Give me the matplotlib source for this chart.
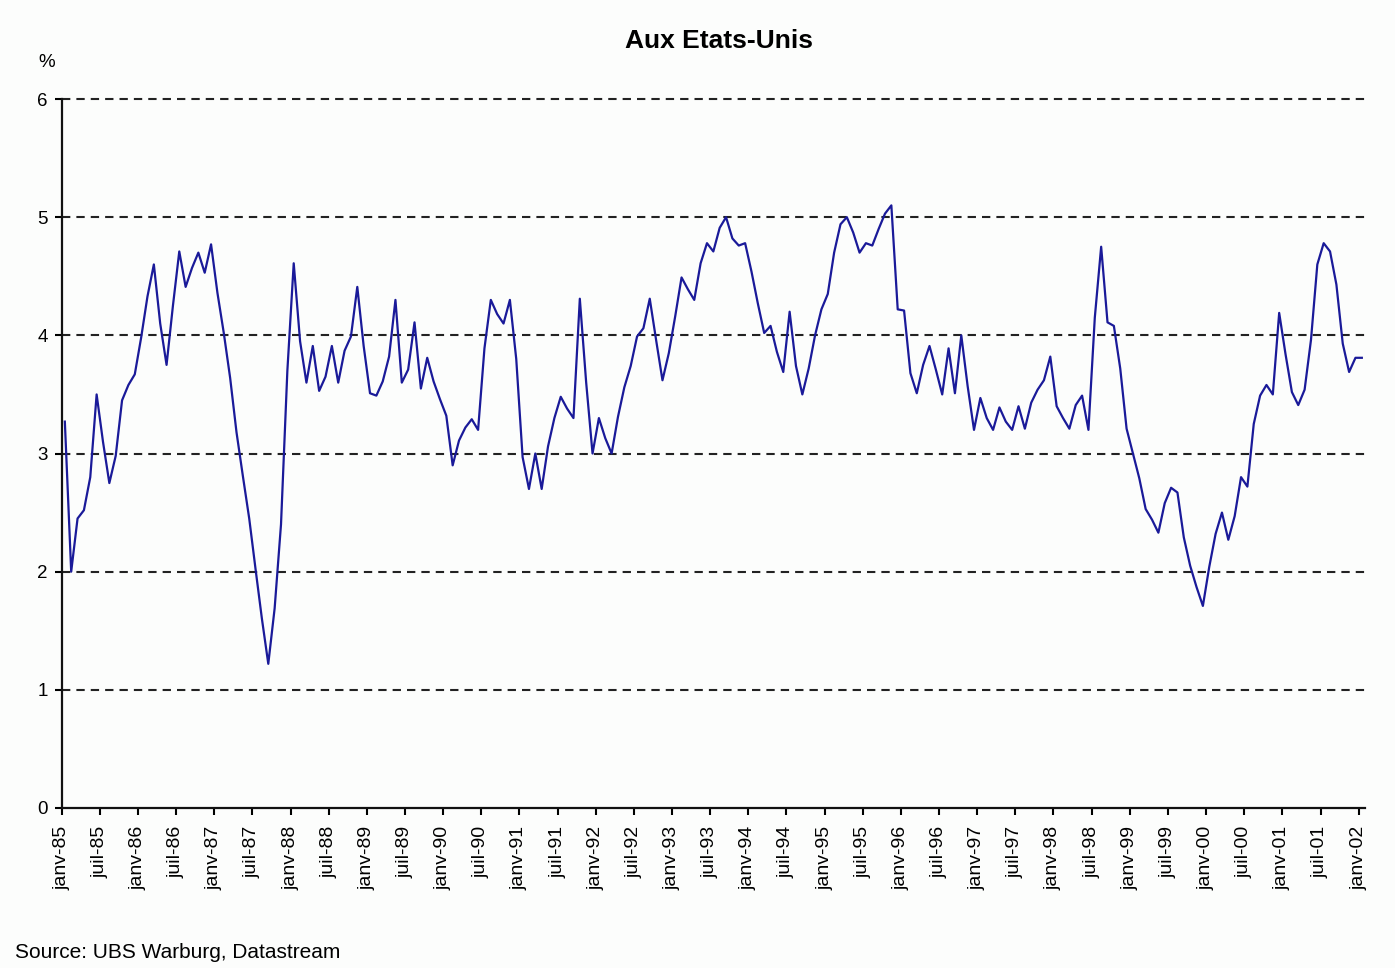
import numpy as np
import matplotlib
matplotlib.use("Agg")
import matplotlib.pyplot as plt

# monthly values, janv-85 .. janv-02, in %
rate = [
    3.27, 2.00, 2.45, 2.52, 2.80, 3.50, 3.10, 2.75, 2.98, 3.45, 3.58, 3.67,  # 1985
    3.98, 4.33, 4.60, 4.10, 3.75, 4.25, 4.71, 4.41, 4.57, 4.70, 4.53, 4.77,  # 1986
    4.36, 4.02, 3.64, 3.18, 2.81, 2.45, 2.02, 1.60, 1.22, 1.69, 2.40, 3.70,  # 1987
    4.61, 3.95, 3.60, 3.91, 3.53, 3.65, 3.91, 3.60, 3.87, 3.99, 4.41, 3.91,  # 1988
    3.51, 3.49, 3.61, 3.82, 4.30, 3.60, 3.71, 4.11, 3.55, 3.81, 3.61, 3.46,  # 1989
    3.32, 2.90, 3.11, 3.22, 3.29, 3.20, 3.89, 4.30, 4.18, 4.10, 4.30, 3.80,  # 1990
    2.97, 2.70, 3.00, 2.70, 3.06, 3.30, 3.48, 3.38, 3.30, 4.31, 3.60, 3.00,  # 1991
    3.30, 3.13, 3.00, 3.31, 3.56, 3.74, 3.99, 4.06, 4.31, 3.96, 3.62, 3.85,  # 1992
    4.16, 4.49, 4.39, 4.30, 4.61, 4.78, 4.71, 4.91, 5.00, 4.82, 4.76, 4.78,  # 1993
    4.54, 4.27, 4.02, 4.08, 3.86, 3.69, 4.20, 3.74, 3.50, 3.72, 4.00, 4.22,  # 1994
    4.35, 4.70, 4.94, 5.00, 4.87, 4.70, 4.78, 4.76, 4.90, 5.03, 5.10, 4.22,  # 1995
    4.21, 3.68, 3.51, 3.75, 3.91, 3.71, 3.50, 3.89, 3.51, 4.00, 3.57, 3.20,  # 1996
    3.47, 3.30, 3.20, 3.39, 3.27, 3.20, 3.40, 3.21, 3.43, 3.54, 3.62, 3.82,  # 1997
    3.40, 3.30, 3.21, 3.41, 3.49, 3.20, 4.15, 4.75, 4.11, 4.08, 3.72, 3.21,  # 1998
    3.00, 2.79, 2.53, 2.44, 2.33, 2.58, 2.71, 2.67, 2.29, 2.05, 1.87, 1.71,  # 1999
    2.04, 2.32, 2.50, 2.27, 2.47, 2.80, 2.72, 3.25, 3.49, 3.58, 3.50, 4.19,  # 2000
    3.84, 3.52, 3.41, 3.54, 3.96, 4.60, 4.78, 4.71, 4.43, 3.93, 3.69, 3.81,  # 2001
    3.81,                                                                    # 2002
]

years = list(range(85, 100)) + [0, 1, 2]
tick_labels = []
for yy in years:
    tick_labels.append(f"janv-{yy:02d}")
    tick_labels.append(f"juil-{yy:02d}")
tick_labels = tick_labels[:-1]  # ends on janv-02

y_ticks = [0, 1, 2, 3, 4, 5, 6]

LINE_COLOR = "#1a1a99"
FONT = "Liberation Sans"

fig = plt.figure(figsize=(13.95, 9.68), dpi=100, facecolor="#fcfdfc")
ax = fig.add_axes([0.0442, 0.1653, 0.9343, 0.7324])
ax.set_facecolor("#fcfdfc")

x = np.arange(len(rate)) + 0.5
ax.plot(x, rate, color=LINE_COLOR, lw=1.6, zorder=3)

ax.set_xlim(0, len(rate))
ax.set_ylim(0, 6)

# dashed horizontal grid (top one sits on the axes edge, so no clipping)
for v in y_ticks[1:]:
    ax.axhline(v, color="#222222", lw=1.5, linestyle=(0, (4.0, 2.9)),
               zorder=1, clip_on=False)

ax.set_yticks(y_ticks)
ax.set_yticklabels([str(v) for v in y_ticks], fontsize=13.5, family=FONT)
ax.set_xticks(np.arange(0, len(tick_labels) * 6, 6))
ax.set_xticklabels(tick_labels, rotation=90, fontsize=14, family=FONT)

ax.tick_params(axis="y", direction="out", length=5, width=1.5, pad=5)
ax.tick_params(axis="x", direction="out", length=5, width=1.5, pad=8)

for side in ["top", "right"]:
    ax.spines[side].set_visible(False)
for side in ["left", "bottom"]:
    ax.spines[side].set_linewidth(1.6)
    ax.spines[side].set_color("#111111")

fig.text(0.5154, 0.9576, "Aux Etats-Unis", ha="center", va="center",
         fontsize=19, fontweight="bold", family=FONT)
fig.text(0.0337, 0.9355, "%", ha="center", va="center", fontsize=13.5, family=FONT)
fig.text(0.0108, 0.0165, "Source: UBS Warburg, Datastream", ha="left", va="center",
         fontsize=15, family=FONT)

fig.savefig("out.png", dpi=100, facecolor=fig.get_facecolor())
